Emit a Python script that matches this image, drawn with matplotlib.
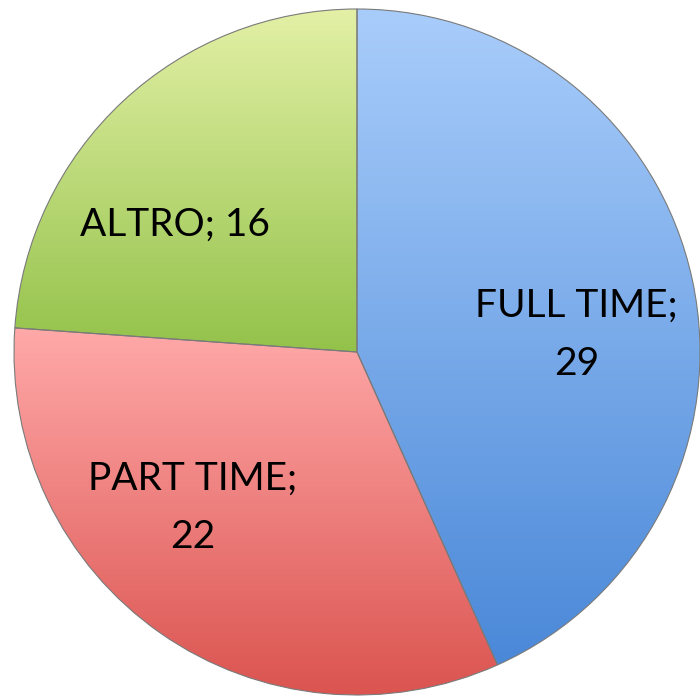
import numpy as np
import matplotlib.pyplot as plt
from matplotlib.colors import LinearSegmentedColormap

# dati
categorie = ["FULL TIME", "PART TIME", "ALTRO"]
valori = [29, 22, 16]
etichette = ["FULL TIME;\n29", "PART TIME;\n22", "ALTRO; 16"]

# colori gradiente (alto, basso)
colori_top = ["#a9cdfb", "#ffa9a9", "#e3f0a6"]
colori_bot = ["#4a88d8", "#db5450", "#93c24a"]
colori_base = ["#7aaaf0", "#f07c7a", "#bcd878"]

# posizioni etichette (frazioni del raggio)
pos_etichette = [(0.64, 0.05), (-0.48, -0.455), (-0.53, 0.37)]

plt.rcParams['font.family'] = ['Lato', 'DejaVu Sans']

fig = plt.figure(figsize=(7, 6.99), dpi=100)
ax = fig.add_axes([0, 0, 1, 1])

cx, cy, r = 357, 699 - 352, 343

wedges, _ = ax.pie(valori, colors=colori_base, startangle=90, counterclock=False,
                   center=(cx, cy), radius=r, frame=True,
                   wedgeprops=dict(edgecolor="#7a7a7a", linewidth=0.8))
ax.set_aspect('equal')
ax.axis('off')

# riempimento a gradiente verticale per ogni fetta
for w, ct, cb in zip(wedges, colori_top, colori_bot):
    ext = w.get_path().get_extents()
    cmap = LinearSegmentedColormap.from_list("g", [cb, ct])
    grad = np.linspace(0, 1, 256).reshape(-1, 1)
    im = ax.imshow(grad, cmap=cmap, origin='lower', aspect='auto',
                   extent=[ext.x0, ext.x1, ext.y0, ext.y1], zorder=w.get_zorder())
    im.set_clip_path(w)
    w.set_facecolor("none")
    w.set_zorder(w.get_zorder() + 1)

for testo, (fx, fy) in zip(etichette, pos_etichette):
    ax.text(cx + fx * r, cy + fy * r, testo, ha='center', va='center',
            fontsize=28, color='black', linespacing=1.75, zorder=10)

ax.set_xlim(0, 700)
ax.set_ylim(0, 699)
fig.savefig("out.png", dpi=100, facecolor='white')
